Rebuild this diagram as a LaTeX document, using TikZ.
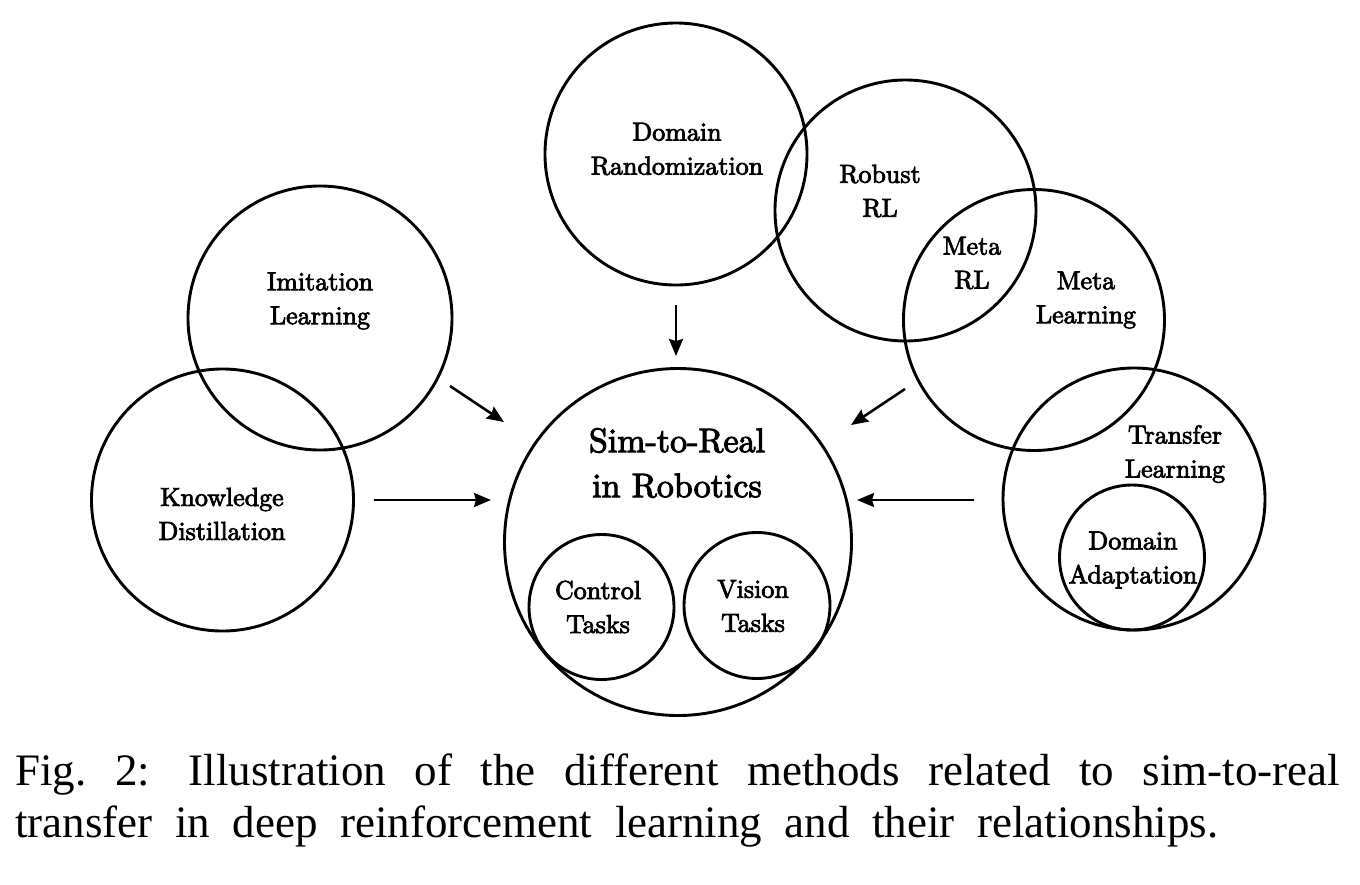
\documentclass[tikz,border=0pt]{standalone}
\usepackage{fontspec}
\usepackage{tikz}
\usetikzlibrary{arrows.meta}
\newfontfamily\lblfont{lmroman10-regular.otf}[FakeBold=3]
\newfontfamily\capfont{Liberation Serif}

\begin{document}
\begin{tikzpicture}[x=1pt,y=-1pt,
	blob/.style={circle,draw,line width=2.9pt,inner sep=0pt},
	lbl/.style={align=center,inner sep=0pt,font=\lblfont\fontsize{26}{34}\selectfont},
	flow/.style={line width=2.6pt,-{Stealth[length=17pt,width=14pt,inset=2pt]}}]
	\useasboundingbox (0,0) rectangle (1360,884);

	% circles
	\node[blob,minimum size=262pt] (DR) at (676,154) {};
	\node[blob,minimum size=261pt] (RR) at (905.5,210.5) {};
	\node[blob,minimum size=261pt] (ML) at (1034,320) {};
	\node[blob,minimum size=262pt] (TL) at (1134,499) {};
	\node[blob,minimum size=145pt] (DA) at (1132,557.5) {};
	\node[blob,minimum size=264pt] (IL) at (320,318) {};
	\node[blob,minimum size=262pt] (KD) at (222.5,500) {};
	\node[blob,minimum size=347pt] (SR) at (678,542) {};
	\node[blob,minimum size=145pt] (CT) at (601.5,607) {};
	\node[blob,minimum size=146pt] (VT) at (757,605.5) {};

	% labels
	\node[lbl] (DRl) at (677,149) {Domain\\Randomization};
	\node[lbl] (RRl) at (880,191) {Robust\\RL};
	\node[lbl] (MRl) at (972,263) {Meta\\RL};
	\node[lbl] (MLl) at (1086,300) {Meta\\Learning};
	\node[lbl] (TLl) at (1175,454) {Transfer\\Learning};
	\node[lbl] (DAl) at (1133,560) {Domain\\Adaptation};
	\node[lbl] (ILl) at (320,301) {Imitation\\Learning};
	\node[lbl] (KDl) at (222,514) {Knowledge\\Distillation};
	\node[lbl,font=\lblfont\fontsize{34}{45}\selectfont] (SRl) at (677,463) {Sim-to-Real\\in Robotics};
	\node[lbl] (CTl) at (598,607) {Control\\Tasks};
	\node[lbl] (VTl) at (753,606) {Vision\\Tasks};

	% arrows
	\coordinate (A1) at (676,305);
	\coordinate (B1) at (676,356);
	\coordinate (A2) at (450,386);
	\coordinate (B2) at (504,422);
	\coordinate (A3) at (374,500);
	\coordinate (B3) at (491,500);
	\coordinate (A4) at (905,389);
	\coordinate (B4) at (851,425);
	\coordinate (A5) at (974,500);
	\coordinate (B5) at (857,500);
	\draw[flow] (A1)--(B1);
	\draw[flow] (A2)--(B2);
	\draw[flow] (A3)--(B3);
	\draw[flow] (A4)--(B4);
	\draw[flow] (A5)--(B5);

	% caption
	\node[anchor=north west,inner sep=0pt,text width=1325pt,align=justify,
		font=\capfont\fontsize{45}{52}\selectfont] (cap) at (15,754)
		{\spaceskip=0.5em plus 0.4em minus 0.1em\hyphenpenalty=10000\exhyphenpenalty=10000
		Fig.\ 2: Illustration of the different methods related to sim-to-real transfer in deep reinforcement learning and their relationships.};
\end{tikzpicture}
\end{document}
